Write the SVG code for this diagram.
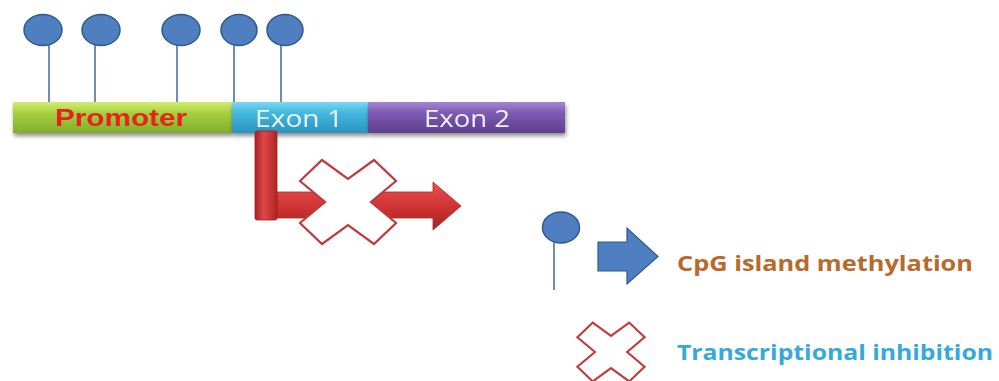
<svg xmlns="http://www.w3.org/2000/svg" width="999" height="381" viewBox="0 0 999 381">
  <defs>
    <linearGradient id="gPromoter" x1="0" y1="0" x2="0" y2="1">
      <stop offset="0" stop-color="#d4ec70"/>
      <stop offset="0.35" stop-color="#a8d040"/>
      <stop offset="1" stop-color="#7fae2c"/>
    </linearGradient>
    <linearGradient id="gExon1" x1="0" y1="0" x2="0" y2="1">
      <stop offset="0" stop-color="#7ad8f0"/>
      <stop offset="0.35" stop-color="#44b8e0"/>
      <stop offset="1" stop-color="#2b93bd"/>
    </linearGradient>
    <linearGradient id="gExon2" x1="0" y1="0" x2="0" y2="1">
      <stop offset="0" stop-color="#a486d0"/>
      <stop offset="0.35" stop-color="#7e5ab4"/>
      <stop offset="1" stop-color="#5e3e8e"/>
    </linearGradient>
    <linearGradient id="gRedV" x1="0" y1="0" x2="1" y2="0">
      <stop offset="0" stop-color="#a82020"/>
      <stop offset="0.4" stop-color="#e04848"/>
      <stop offset="1" stop-color="#b02424"/>
    </linearGradient>
    <linearGradient id="gRedH" x1="0" y1="0" x2="0" y2="1">
      <stop offset="0" stop-color="#e85050"/>
      <stop offset="0.5" stop-color="#d03434"/>
      <stop offset="1" stop-color="#a82222"/>
    </linearGradient>
    <filter id="shadow" x="-5%" y="-30%" width="110%" height="180%">
      <feGaussianBlur in="SourceAlpha" stdDeviation="2"/>
      <feOffset dx="1" dy="3" result="b"/>
      <feComponentTransfer><feFuncA type="linear" slope="0.45"/></feComponentTransfer>
      <feMerge><feMergeNode/><feMergeNode in="SourceGraphic"/></feMerge>
    </filter>
    <path id="cross" d="M-48,-21 L-26,-42 L0,-23 L26,-42 L48,-21 L23,0 L48,21 L26,42 L0,23 L-26,42 L-48,21 L-23,0 Z"/>
  </defs>
  <style>
    .stem { stroke: #4a72a8; stroke-width: 1.6; fill: none; }
    .cpg { fill: #4f7fc0; stroke: #2d5a8e; stroke-width: 1.5; }
    .xmark { fill: #ffffff; stroke: #c0393b; stroke-width: 2.2; stroke-linejoin: miter; }
    .label { font-family: "Open Sans", "Liberation Sans", sans-serif; font-size: 23px; fill: #e8f4fa; }
  </style>

  <rect width="999" height="381" fill="#ffffff"/>

  <!-- methylated CpG sites on the gene -->
  <g id="cpg-sites">
    <line class="stem" x1="49" y1="44" x2="49" y2="103"/>
    <line class="stem" x1="95" y1="44" x2="95" y2="103"/>
    <line class="stem" x1="177" y1="44" x2="177" y2="103"/>
    <line class="stem" x1="234" y1="44" x2="234" y2="103"/>
    <line class="stem" x1="281" y1="44" x2="281" y2="103"/>
    <ellipse class="cpg" cx="43" cy="30" rx="19" ry="15.5"/>
    <ellipse class="cpg" cx="101" cy="30" rx="19" ry="15.5"/>
    <ellipse class="cpg" cx="181" cy="30" rx="19" ry="15.5"/>
    <ellipse class="cpg" cx="239" cy="30" rx="18" ry="15.5"/>
    <ellipse class="cpg" cx="285" cy="30" rx="18" ry="15.5"/>
  </g>

  <!-- gene segments -->
  <g id="promoter" filter="url(#shadow)">
    <rect x="13" y="102" width="219" height="31" fill="url(#gPromoter)"/>
    <text x="55" y="126" textLength="132" lengthAdjust="spacingAndGlyphs" font-family="Liberation Sans, sans-serif" font-weight="bold" font-size="24" fill="#e8201c">Promoter</text>
  </g>
  <g id="exon1" filter="url(#shadow)">
    <rect x="232" y="102" width="136" height="31" fill="url(#gExon1)"/>
    <text class="label" x="255" y="127" textLength="88" lengthAdjust="spacingAndGlyphs">Exon 1</text>
  </g>
  <g id="exon2" filter="url(#shadow)">
    <rect x="368" y="102" width="197" height="31" fill="url(#gExon2)"/>
    <text class="label" x="424" y="127" textLength="86" lengthAdjust="spacingAndGlyphs">Exon 2</text>
  </g>

  <!-- blocked transcription start arrow -->
  <g id="connectors">
    <path d="M277,192 L433,192 L433,182 L461,206 L433,230 L433,218 L277,218 Z" fill="url(#gRedH)" stroke="#a82828" stroke-width="0.8"/>
    <rect x="255" y="131" width="22" height="89" rx="2" fill="url(#gRedV)" stroke="#a02020" stroke-width="0.8"/>
  </g>
  <g id="inhibition-mark">
    <use href="#cross" class="xmark" transform="translate(348,202)"/>
  </g>

  <!-- legend -->
  <g id="legend-methylation">
    <line class="stem" x1="554" y1="242" x2="554" y2="290"/>
    <ellipse class="cpg" cx="561" cy="227.5" rx="18.5" ry="15.5"/>
    <path d="M598,242 L627,242 L627,228 L658,256.5 L627,284 L627,271 L598,271 Z" fill="#4f7fc0" stroke="#2d5a8e" stroke-width="1.2"/>
    <text x="677" y="271" textLength="296" lengthAdjust="spacingAndGlyphs" font-family="Open Sans, Liberation Sans, sans-serif" font-weight="bold" font-size="22" fill="#b86a2c">CpG island methylation</text>
  </g>
  <g id="legend-inhibition">
    <use href="#cross" class="xmark" transform="translate(611,352) scale(0.7)" style="stroke-width:3"/>
    <text x="677" y="360" textLength="316" lengthAdjust="spacingAndGlyphs" font-family="Open Sans, Liberation Sans, sans-serif" font-weight="bold" font-size="22" fill="#38a8d8">Transcriptional  inhibition</text>
  </g>
</svg>
